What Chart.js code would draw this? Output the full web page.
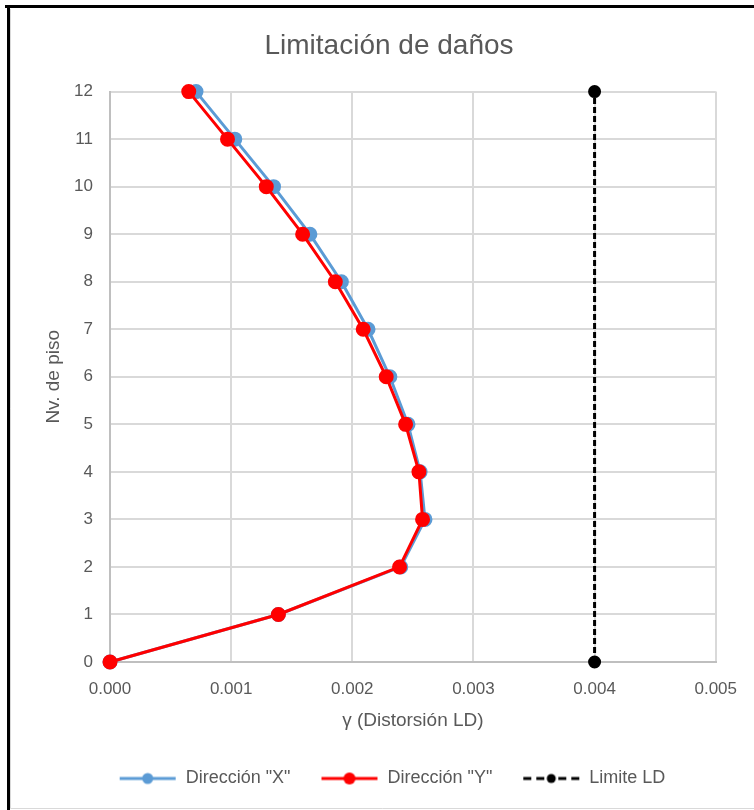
<!DOCTYPE html>
<html>
<head>
<meta charset="utf-8">
<script src="https://cdn.jsdelivr.net/npm/chart.js@4/dist/chart.umd.min.js"></script>
<style>
html,body{margin:0;padding:0;background:#fff;}
#wrap{position:absolute;left:0;top:0;width:754px;height:810px;}
</style>
</head>
<body>
<div id="wrap"><canvas id="c" width="754" height="810"></canvas></div>
<script>
const pisos = [0,1,2,3,4,5,6,7,8,9,10,11,12];
const direccionX = [0, 0.00139, 0.00240, 0.00260, 0.00256, 0.00246, 0.00231, 0.00213, 0.00191, 0.00165, 0.00135, 0.00103, 0.00071];
const direccionY = [0, 0.00139, 0.00239, 0.00258, 0.00255, 0.00244, 0.00228, 0.00209, 0.00186, 0.00159, 0.00129, 0.00097, 0.00065];
const limiteX = [0.004, 0.004];
const limiteY = [0, 12];
const xTicks = [0, 0.001, 0.002, 0.003, 0.004, 0.005];

const gray = '#595959';
const font = '"Liberation Sans", "DejaVu Sans", sans-serif';

function legendIcon(color, dashed, r){
  const cv = document.createElement('canvas');
  cv.width = 58; cv.height = 14;
  const g = cv.getContext('2d');
  g.strokeStyle = color; g.lineWidth = 3;
  if (dashed) {
    g.setLineDash([8,5]);
    g.beginPath(); g.moveTo(1,7); g.lineTo(24,7); g.stroke();
    g.beginPath(); g.moveTo(57,7); g.lineTo(34,7); g.stroke();
  } else {
    g.beginPath(); g.moveTo(1,7); g.lineTo(57,7); g.stroke();
  }
  g.setLineDash([]);
  g.fillStyle = color;
  g.beginPath(); g.arc(29,7,r,0,Math.PI*2); g.fill();
  return cv;
}
const icons = [legendIcon('#5b9bd5',false,5.5), legendIcon('#ff0000',false,6), legendIcon('#000000',true,4.5)];

const bgBorder = {
  id:'bgBorder',
  afterLayout(chart){
    if (chart.legend) { chart.legend.left = 67; }
    if (chart.titleBlock) { chart.titleBlock.left = 61; }
  },
  beforeDraw(chart){
    const c = chart.ctx;
    c.save();
    c.fillStyle='#fff'; c.fillRect(0,0,chart.width,chart.height);
    c.restore();
  },
  afterDraw(chart){
    const c = chart.ctx;
    c.save();
    c.strokeStyle='#d9d9d9'; c.lineWidth=1;
    c.beginPath(); c.moveTo(10.5,9); c.lineTo(10.5,808.5); c.lineTo(754,808.5); c.stroke();
    c.fillStyle='#000';
    c.fillRect(5,5,749,3);
    c.fillRect(7,5,3,805);
    c.restore();
  }
};

new Chart(document.getElementById('c'), {
  type:'line',
  data:{
    datasets:[
      {label:'Dirección "X"', data: pisos.map((p,i)=>({x:direccionX[i], y:p})),
       borderColor:'#5b9bd5', backgroundColor:'#5b9bd5', borderWidth:3, pointRadius:6, pointHoverRadius:6, clip:false, order:2},
      {label:'Dirección "Y"', data: pisos.map((p,i)=>({x:direccionY[i], y:p})),
       borderColor:'#ff0000', backgroundColor:'#ff0000', borderWidth:3, pointRadius:6, pointHoverRadius:6, clip:false, order:1},
      {label:'Limite LD', data: limiteY.map((p,i)=>({x:limiteX[i], y:p})),
       borderColor:'#000000', backgroundColor:'#000000', borderWidth:3, borderDash:[6,3], pointRadius:5, pointHoverRadius:5, clip:false, order:0}
    ]
  },
  options:{
    responsive:false,
    animation:false,
    devicePixelRatio:1,
    layout:{padding:{left:20,right:37,top:15,bottom:12.5}},
    plugins:{
      title:{display:true,text:'Limitación de daños',color:gray,font:{family:font,size:28,weight:'normal'},padding:{top:14,bottom:29}},
      legend:{position:'bottom',
        labels:{color:gray,font:{family:font,size:18},usePointStyle:true,pointStyleWidth:58,padding:30,
          generateLabels(chart){
            return chart.data.datasets.map((d,i)=>({text:d.label,pointStyle:icons[i],fillStyle:d.borderColor,strokeStyle:d.borderColor,lineWidth:0,fontColor:gray,datasetIndex:i,hidden:false}));
          }}},
      tooltip:{enabled:false}
    },
    scales:{
      x:{type:'linear',min:0,max:0.005,
        afterBuildTicks(s){ s.ticks = xTicks.map(v=>({value:v})); },
        ticks:{color:gray,font:{family:font,size:17},padding:17,callback:v=>Number(v).toFixed(3)},
        grid:{color:'#d9d9d9',lineWidth:2,drawTicks:false},
        border:{color:'#bfbfbf',width:2},
        title:{display:true,text:'γ (Distorsión LD)',color:gray,font:{family:font,size:19},padding:{top:0,bottom:7}},
        afterFit(s){ s.height = 77.5; }
      },
      y:{type:'linear',min:0,max:12,
        ticks:{stepSize:1,color:gray,font:{family:font,size:17},padding:17},
        grid:{color:'#d9d9d9',lineWidth:2,drawTicks:false},
        border:{color:'#bfbfbf',width:2},
        title:{display:true,text:'Nv. de piso',color:gray,font:{family:font,size:19},padding:{top:22,bottom:0}},
        afterFit(s){ s.width = 90; }
      }
    }
  },
  plugins:[bgBorder]
});
</script>
</body>
</html>
